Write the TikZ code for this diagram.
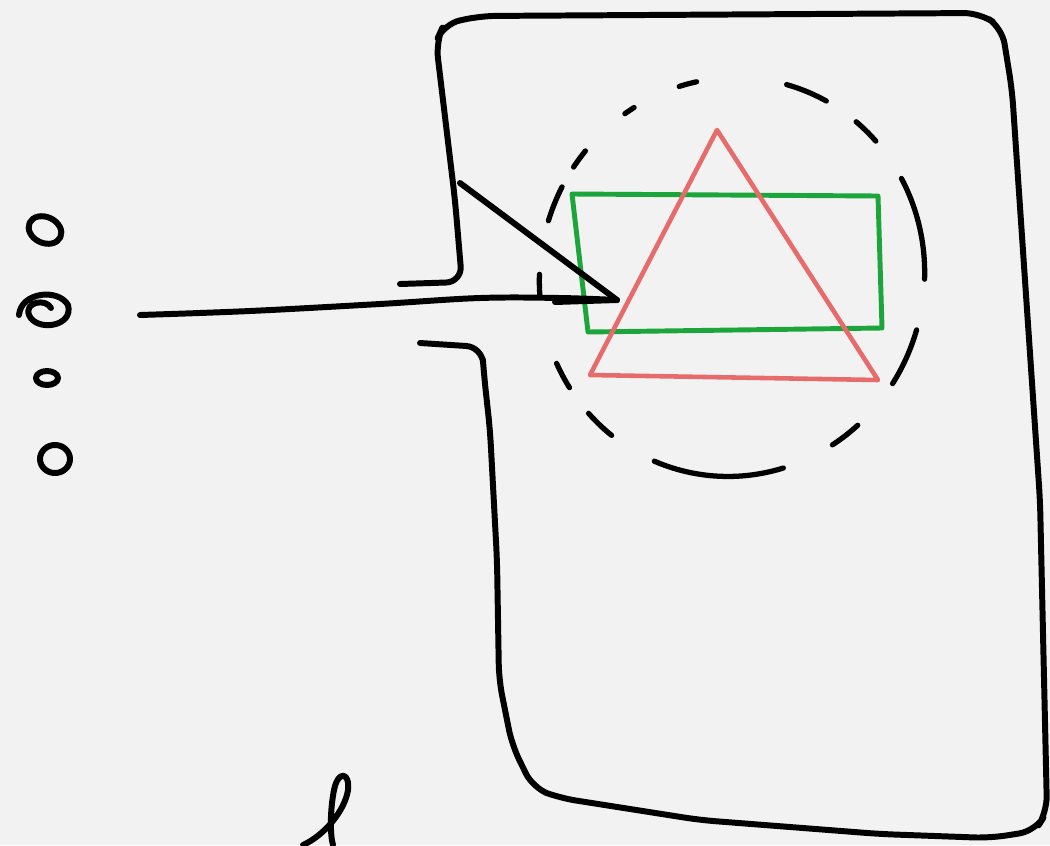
\documentclass[tikz,border=0pt]{standalone}
\usepackage{tikz}
\usetikzlibrary{calc}
\definecolor{paper}{HTML}{F2F2F2}
\definecolor{markergreen}{HTML}{1BA53A}
\definecolor{markerred}{HTML}{E86B6B}
\begin{document}
\begin{tikzpicture}[
        x=0.02cm, y=-0.02cm,
        ink/.style={draw=black, line width=3.4pt, line cap=round, line join=round},
        frame/.style={ink, rounded corners=9pt},
        greenbox/.style={draw=markergreen, line width=2.8pt, line cap=round, line join=round},
        redtri/.style={draw=markerred, line width=2.6pt, line cap=round, line join=round},
        ring/.style={draw=black, line width=3pt, line cap=round,
            dash pattern=on 1.18cm off 1.09cm on 0.64cm off 1.09cm on 2.64cm off 1cm
                on 0.64cm off 0.64cm on 0.55cm off 1.37cm on 0.46cm off 1.09cm
                on 0.73cm off 0.46cm on 0.4cm off 1.09cm on 0.22cm off 1cm
                on 0.36cm off 1.82cm on 0.86cm off 0.73cm on 0.55cm off 0.91cm
                on 2.09cm off 1.09cm}
    ]
        % canvas
        \fill[paper] (0,0) rectangle (1050,845);
        \useasboundingbox (0,0) rectangle (1050,845);

        % speech-bubble frame
        \draw[frame] (400,284) -- (462,282) -- (455,200) -- (436,42) -- (444,24)
            -- (480,16) -- (980,13) -- (1002,28) -- (1012,90) -- (1040,500)
            -- (1047,812) -- (1035,831) -- (990,838) -- (880,834) -- (700,820)
            -- (560,798) -- (533,788) -- (512,745) -- (499,680) -- (497,560)
            -- (490,430) -- (484,375) -- (482,347) -- (420,343);

        % dashed ring
        \coordinate (ringc) at (732,277);
        \draw[ring] (ringc) ellipse [x radius=192, y radius=200, rotate=-16];

        % green box and red triangle
        \draw[greenbox] (572,194) -- (878,196) -- (882,328) -- (588,332) -- cycle;
        \draw[redtri] (717,130) -- (878,380) -- (590,375) -- cycle;

        % pointer
        \coordinate (tail) at (140,315);
        \coordinate (tip) at (617,300);
        \draw[ink] plot[smooth, tension=0.6] coordinates {(tail) (250,311) (380,304) (480,298) (560,298) (tip)};
        \draw[ink] (460,183) -- (tip) -- (555,302);

        % little loops on the left
        \draw[ink] (45,230) ellipse [x radius=17, y radius=13, rotate=-25];
        \draw[ink] (19,315) .. controls (21,292) and (58,288) .. (68,305)
            .. controls (74,327) and (36,332) .. (29,315)
            .. controls (24,302) and (46,298) .. (51,308);
        \draw[ink] (47,378) ellipse [x radius=11, y radius=7];
        \draw[ink] (55,459) ellipse [x radius=15, y radius=14];

        % scribble at the bottom
        \draw[ink] (303,845) .. controls (325,835) and (345,810) .. (348,790)
            .. controls (350,772) and (338,770) .. (334,790)
            .. controls (330,810) and (330,835) .. (333,845);
    \end{tikzpicture}
\end{document}
